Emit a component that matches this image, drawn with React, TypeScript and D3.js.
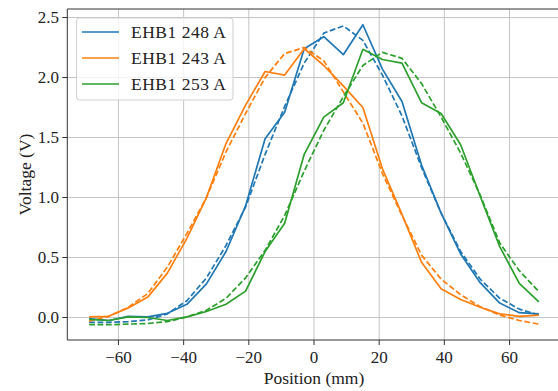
import React from 'react';
import * as d3 from 'd3';

// probe positions (mm)
const positions = [-69, -63, -57, -51, -45, -39, -33, -27, -21, -15, -9, -3, 3, 9, 15, 21, 27, 33, 39, 45, 51, 57, 63, 69];

// measured voltage (V)
const blue248 = [-0.01, -0.025, 0.01, 0.005, 0.035, 0.11, 0.28, 0.55, 0.93, 1.49, 1.71, 2.24, 2.34, 2.19, 2.44, 2.07, 1.8, 1.27, 0.87, 0.53, 0.29, 0.12, 0.04, 0.03];
const orange243 = [0.005, 0.01, 0.08, 0.17, 0.37, 0.66, 1.0, 1.45, 1.77, 2.05, 2.02, 2.24, 2.1, 1.93, 1.75, 1.24, 0.86, 0.46, 0.24, 0.15, 0.085, 0.03, 0.01, 0.02];
const green253 = [-0.015, -0.025, 0.005, 0.0, -0.025, 0.005, 0.05, 0.11, 0.22, 0.55, 0.785, 1.36, 1.67, 1.79, 2.235, 2.15, 2.12, 1.79, 1.7, 1.44, 1.01, 0.59, 0.285, 0.13];

// fitted curves (dashed)
const blue248Fit = [-0.04, -0.04, -0.035, -0.02, 0.03, 0.14, 0.33, 0.6, 0.92, 1.36, 1.76, 2.12, 2.37, 2.43, 2.31, 2.02, 1.68, 1.25, 0.87, 0.55, 0.32, 0.16, 0.07, 0.02];
const orange243Fit = [-0.03, 0.01, 0.085, 0.2, 0.42, 0.7, 1.0, 1.38, 1.7, 2.0, 2.2, 2.25, 2.14, 1.88, 1.62, 1.2, 0.85, 0.52, 0.32, 0.19, 0.09, 0.02, -0.025, -0.055];
const green253Fit = [-0.06, -0.06, -0.055, -0.05, -0.035, 0.005, 0.06, 0.16, 0.33, 0.56, 0.85, 1.22, 1.56, 1.84, 2.1, 2.21, 2.16, 1.95, 1.67, 1.37, 1.02, 0.62, 0.39, 0.215];

const labels = ['EHB1 248 A', 'EHB1 243 A', 'EHB1 253 A'];
const colors = ['#1f77b4', '#ff7f0e', '#2ca02c'];

const xTicks = [-60, -40, -20, 0, 20, 40, 60];
const yTicks = [0, 0.5, 1.0, 1.5, 2.0, 2.5];

const W = 558;
const H = 391;
const serif = { fontFamily: "'Liberation Serif', serif" };

export default function App() {
  const x = d3.scaleLinear().domain([-75.7, 75.7]).range([67.3, 560.7]);
  const y = d3.scaleLinear().domain([-0.1875, 2.571]).range([340, 9]);

  const line = d3
    .line<number>()
    .x((d, i) => x(positions[i]))
    .y(d => y(d));

  const series = [
    { data: blue248, fit: blue248Fit },
    { data: orange243, fit: orange243Fit },
    { data: green253, fit: green253Fit },
  ];

  const fmtX = (v: number) => (v < 0 ? '\u2212' + Math.abs(v) : String(v));

  return (
    <svg width={W} height={H} style={{ position: 'absolute', left: 0, top: 0, background: '#fff' }}>
      <defs>
        <clipPath id="plot">
          <rect x={67.3} y={9} width={493} height={331} />
        </clipPath>
      </defs>
      <rect width={W} height={H} fill="#fff" />

      {/* grid */}
      <g stroke="#c4c4c4" strokeWidth={1}>
        {xTicks.map(t => (
          <line key={'gx' + t} x1={x(t)} x2={x(t)} y1={9} y2={340} />
        ))}
        {yTicks.map(t => (
          <line key={'gy' + t} x1={67.3} x2={W} y1={y(t)} y2={y(t)} />
        ))}
      </g>

      {/* lines */}
      <g clipPath="url(#plot)" fill="none" strokeWidth={1.7} strokeLinejoin="round">
        {series.map((s, i) => (
          <g key={i}>
            <path d={line(s.data) || ''} stroke={colors[i]} />
            <path d={line(s.fit) || ''} stroke={colors[i]} strokeDasharray="5.8 2.6" />
          </g>
        ))}
      </g>

      {/* spines */}
      <g stroke="#333" strokeWidth={1} fill="none">
        <line x1={67.3} x2={67.3} y1={9} y2={340} />
        <line x1={67.3} x2={W} y1={340} y2={340} />
        <line x1={67.3} x2={W} y1={9} y2={9} />
      </g>

      {/* x ticks */}
      <g fill="#222" textAnchor="middle">
        {xTicks.map(t => (
          <g key={'tx' + t}>
            <line x1={x(t)} x2={x(t)} y1={340} y2={345} stroke="#333" strokeWidth={1} />
            <text x={x(t)} y={363} fontSize={17} style={serif}>{fmtX(t)}</text>
          </g>
        ))}
      </g>

      {/* y ticks */}
      <g fill="#222" textAnchor="end">
        {yTicks.map(t => (
          <g key={'ty' + t}>
            <line x1={62.3} x2={67.3} y1={y(t)} y2={y(t)} stroke="#333" strokeWidth={1} />
            <text x={59} y={y(t) + 5.5} fontSize={17} style={serif}>{t.toFixed(1)}</text>
          </g>
        ))}
      </g>

      {/* axis labels */}
      <text x={314} y={384} fontSize={17.5} textAnchor="middle" fill="#222" style={serif}>Position (mm)</text>
      <text transform="translate(31,174.5) rotate(-90)" fontSize={17.5} textAnchor="middle" fill="#222" style={serif}>Voltage (V)</text>

      {/* legend */}
      <g>
        <rect x={76.5} y={18} width={156.5} height={82} rx={3} fill="#fff" fillOpacity={0.8} stroke="#d0d0d0" strokeWidth={1} />
        {labels.map((l, i) => (
          <g key={l}>
            <line x1={82} x2={119} y1={32 + i * 26} y2={32 + i * 26} stroke={colors[i]} strokeWidth={1.7} />
            <text x={131} y={32 + i * 26 + 6} fontSize={17.5} letterSpacing={0.5} fill="#222" style={serif}>{l}</text>
          </g>
        ))}
      </g>
    </svg>
  );
}
